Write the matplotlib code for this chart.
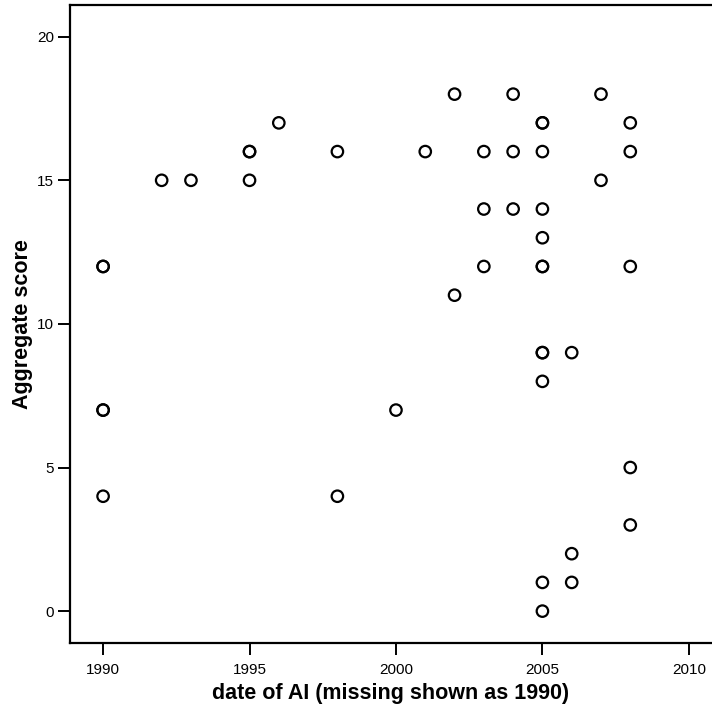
import matplotlib
matplotlib.use('Agg')
import matplotlib.pyplot as plt

plt.rcParams['font.family'] = ['Liberation Sans', 'DejaVu Sans']

# date of AI (missing coded as 1990) and aggregate score, one entry per case
years = [1990, 1990, 1990, 1990, 1990,
         1992, 1993,
         1995, 1995, 1995,
         1996,
         1998, 1998,
         2000, 2001,
         2002, 2002,
         2003, 2003, 2003,
         2004, 2004, 2004,
         2005, 2005, 2005, 2005, 2005, 2005, 2005, 2005, 2005, 2005, 2005, 2005,
         2006, 2006, 2006,
         2007, 2007,
         2008, 2008, 2008, 2008, 2008]
scores = [12, 12, 7, 7, 4,
          15, 15,
          16, 16, 15,
          17,
          16, 4,
          7, 16,
          18, 11,
          16, 14, 12,
          18, 16, 14,
          17, 17, 16, 14, 13, 12, 12, 9, 9, 8, 1, 0,
          9, 2, 1,
          18, 15,
          17, 16, 12, 5, 3]

xticks = [1990, 1995, 2000, 2005, 2010]
yticks = [0, 5, 10, 15, 20]

fig = plt.figure(figsize=(7.12, 7.08), dpi=100)
ax = fig.add_axes([0.0983, 0.0918, 0.9017, 0.9018])

ax.scatter(years, scores, s=68, facecolors='none', edgecolors='black', linewidths=1.6, zorder=3)

ax.set_xlim(1988.87, 2010.79)
ax.set_ylim(-1.11, 21.12)
ax.set_xticks(xticks)
ax.set_yticks(yticks)

ax.spines['right'].set_visible(False)
for side in ['left', 'bottom', 'top']:
    ax.spines[side].set_linewidth(1.6)
ax.tick_params(direction='out', length=8.5, width=1.4, labelsize=11)
ax.tick_params(axis='x', pad=6)
ax.tick_params(axis='y', pad=3)

ax.set_xlabel('date of AI (missing shown as 1990)', fontsize=15.5, fontweight='bold', labelpad=4)
ax.set_ylabel('Aggregate score', fontsize=15.5, fontweight='bold', labelpad=3)

fig.savefig('out.png', dpi=100)
